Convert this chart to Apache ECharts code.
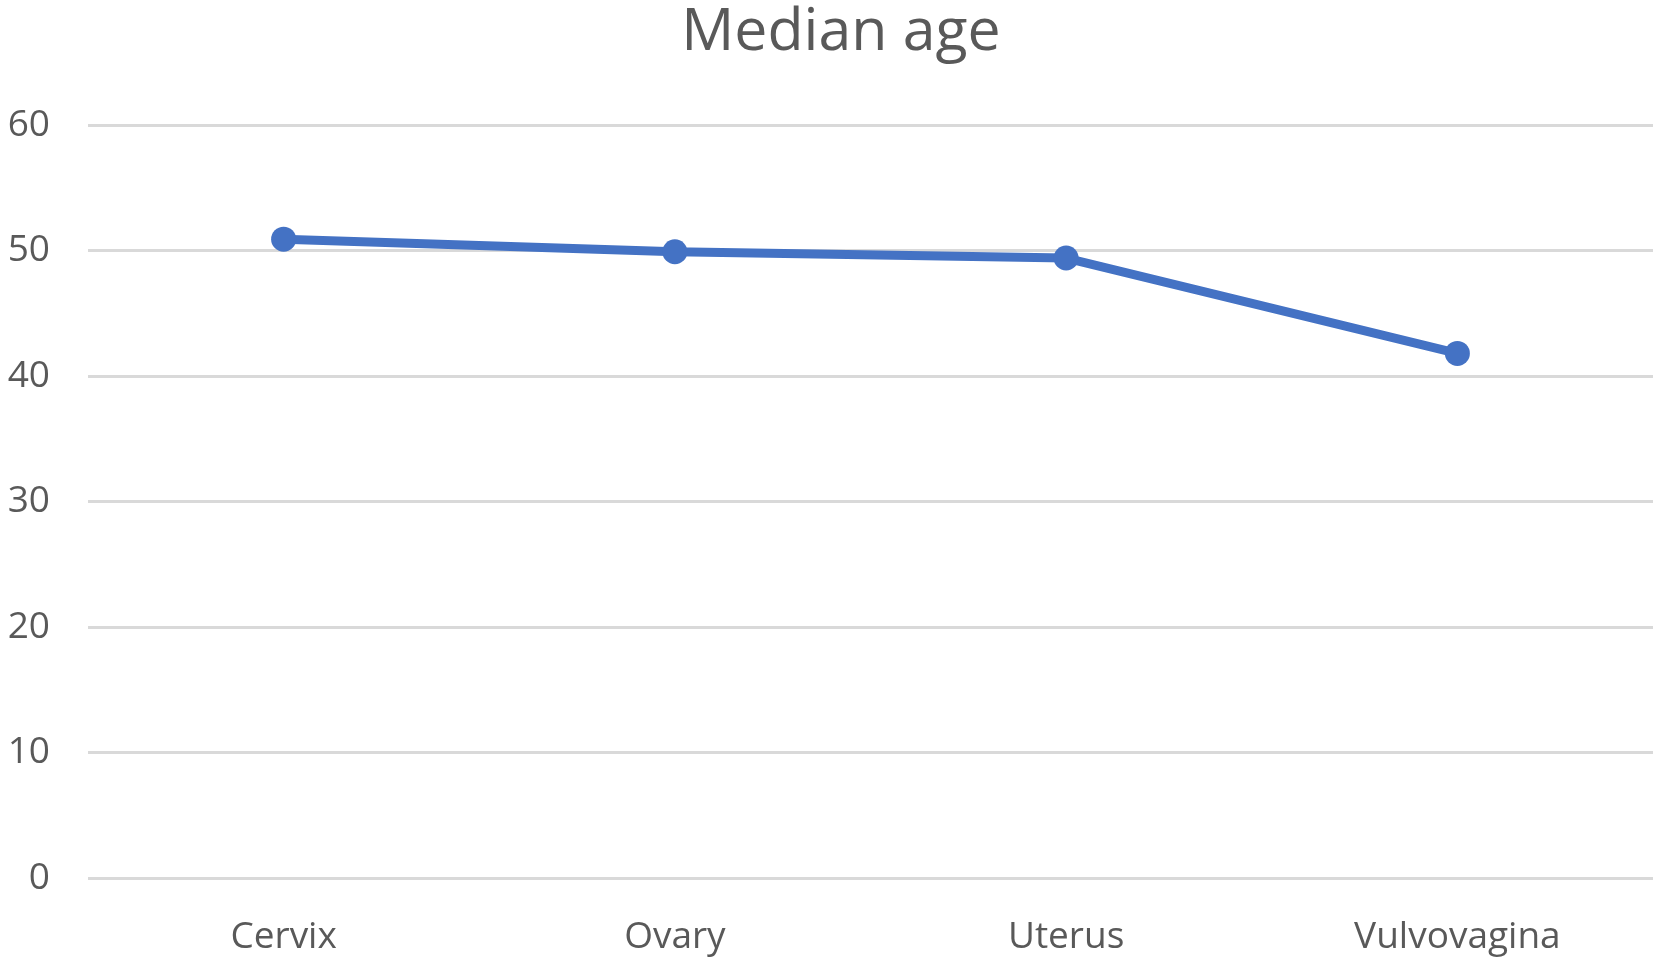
<!DOCTYPE html>
<html><head><meta charset="utf-8">
<script src="https://cdn.jsdelivr.net/npm/echarts@6/dist/echarts.min.js"></script>
<style>html,body{margin:0;padding:0;background:#fff}#c{width:1658px;height:960px}</style>
</head><body><div id="c"></div>
<script>
const titleText = 'Median age';
const categories = ['Cervix', 'Ovary', 'Uterus', 'Vulvovagina'];
const medianAge = [50.9, 49.9, 49.4, 41.8];
const yTicks = {min: 0, max: 60, interval: 10};

const chart = echarts.init(document.getElementById('c'));
chart.setOption({
  backgroundColor: '#fff',
  animation: false,
  title: {
    text: titleText, left: 836, textAlign: 'center', top: -1,
    textStyle: {fontFamily: 'Open Sans', fontSize: 59, fontWeight: 'normal', color: '#595959'}
  },
  grid: {left: 88, right: 5, top: 125, bottom: 82},
  xAxis: {
    type: 'category', data: categories, boundaryGap: true,
    axisLine: {show: false}, axisTick: {show: false},
    axisLabel: {fontFamily: 'Open Sans', fontSize: 37, color: '#595959', margin: 41}
  },
  yAxis: {
    type: 'value', min: yTicks.min, max: yTicks.max, interval: yTicks.interval,
    axisLine: {show: false}, axisTick: {show: false},
    splitLine: {lineStyle: {color: '#d9d9d9', width: 3}},
    axisLabel: {fontFamily: 'Open Sans', fontSize: 37, color: '#595959', margin: 38}
  },
  series: [{
    type: 'line', data: medianAge,
    symbol: 'circle', symbolSize: 25,
    lineStyle: {color: '#4472C4', width: 9},
    itemStyle: {color: '#4472C4'}
  }]
});
</script></body></html>
